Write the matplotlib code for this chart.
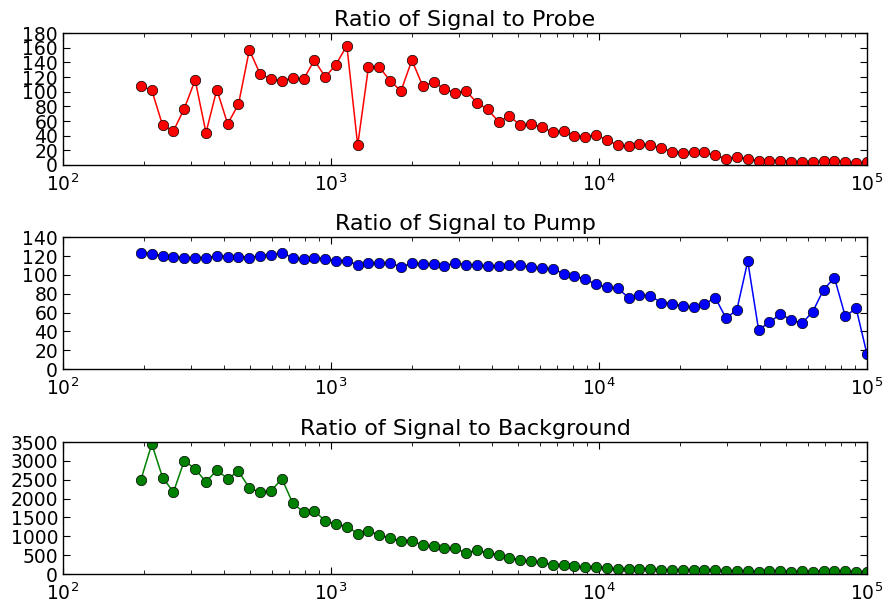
import matplotlib
matplotlib.use("Agg")
import matplotlib.pyplot as plt

# modulation frequency (Hz), log spaced
freq = [195.4, 214.5, 235.4, 258.4, 283.6, 311.3, 341.7, 375.0, 411.6, 451.8,
        495.9, 544.3, 597.5, 655.8, 719.8, 790.1, 867.2, 951.9, 1044, 1146,
        1258, 1380, 1515, 1663, 1825, 2004, 2199, 2414, 2650, 2908,
        3192, 3504, 3846, 4221, 4633, 5085, 5582, 6127, 6725, 7381,
        8102, 8888, 9752, 10703, 11748, 12895, 14153, 15534, 17051, 18715,
        20541, 22542, 24743, 27158, 29807, 32715, 35908, 39413, 43261, 47482,
        52115, 57205, 62788, 68912, 75633, 83022, 91116, 100000]

probe = [108, 102, 54, 46.5, 77, 116, 44, 103, 56, 83,
         157, 124, 117.5, 115, 119, 117, 143, 120, 137, 163,
         27, 133.5, 133.5, 115, 101, 143, 108, 113, 104, 98,
         101, 85, 76, 59, 67, 54, 56, 51.5, 44.6, 46.5,
         40, 38.7, 41.5, 34, 27, 25.5, 28.7, 27, 23.7, 18,
         17, 17.3, 17.3, 13.2, 8.7, 11.4, 8.7, 5, 6, 6,
         4.6, 4.6, 4.6, 5, 5, 4.6, 3.2, 3.6]

pump = [123.6, 122.2, 120, 119, 118, 118.3, 118.3, 120, 119.3, 119.3,
        118.3, 120.4, 121.5, 123.6, 118, 116.5, 118, 116.8, 114.7, 114.7,
        110.8, 112.2, 112.2, 112.2, 108.7, 112.2, 111.2, 111.2, 109.7, 112.6,
        110.8, 110.4, 109, 109.4, 110.4, 110.4, 108, 106.9, 106.5, 101.2,
        98.7, 95.5, 89.8, 86.6, 86.2, 75.5, 78.7, 78, 70.5, 69.5,
        66.6, 65.5, 68.8, 75.9, 53.8, 63, 114.4, 41.7, 49.5, 58.4,
        52.4, 48.4, 61, 84.4, 96.9, 55.9, 64.5, 16]

background = [2505, 3450, 2558, 2176, 3011, 2789, 2443, 2754, 2532, 2727,
              2283, 2168, 2203, 2532, 1883, 1643, 1670, 1412, 1324, 1261,
              1075, 1146, 1039, 959, 871, 888, 764, 737, 684, 684,
              551, 640, 551, 515, 426, 364, 338, 311, 249, 231,
              204, 187, 187, 160, 124, 133, 133, 142, 98, 98,
              98, 107, 107, 98, 80, 80, 80, 62, 71, 80,
              62, 71, 62, 80, 71, 71, 62, 62]

titles = ["Ratio of Signal to Probe", "Ratio of Signal to Pump",
          "Ratio of Signal to Background"]
series = [probe, pump, background]
colors = ["r", "b", "g"]
ylims = [(0, 180), (0, 140), (0, 3500)]
ysteps = [20, 20, 500]

plt.rcParams["font.family"] = "DejaVu Sans"
plt.rcParams["xtick.direction"] = "in"
plt.rcParams["ytick.direction"] = "in"
plt.rcParams["xtick.top"] = True
plt.rcParams["ytick.right"] = True
plt.rcParams["xtick.major.size"] = 5
plt.rcParams["xtick.minor.size"] = 3
plt.rcParams["ytick.major.size"] = 5
plt.rcParams["xtick.major.pad"] = 6

fig = plt.figure(figsize=(8.87, 6.05), dpi=100)
bottoms = [0.7273, 0.390, 0.0512]

for i in range(3):
    ax = fig.add_axes([0.071, bottoms[i], 0.9064, 0.218])
    ax.plot(freq, series[i], color=colors[i], marker="o", markersize=7.5,
            markeredgecolor="k", markeredgewidth=0.5, linewidth=1.1)
    ax.set_xscale("log")
    ax.set_xlim(100, 100000)
    ax.set_ylim(*ylims[i])
    lo, hi = ylims[i]
    ax.set_yticks(list(range(lo, hi + 1, ysteps[i])))
    ax.tick_params(labelsize=13.5)
    ax.set_title(titles[i], fontsize=16, pad=5)
    for s in ax.spines.values():
        s.set_linewidth(1.0)

plt.savefig("out.png", dpi=100, facecolor="white")
